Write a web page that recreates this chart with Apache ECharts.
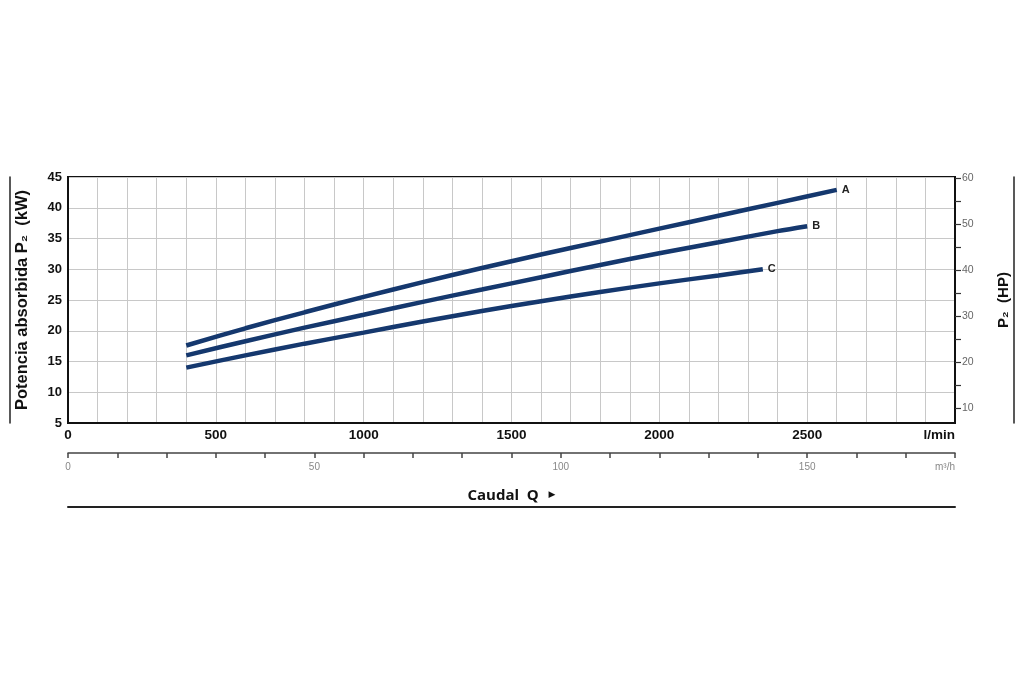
<!DOCTYPE html>
<html>
<head>
<meta charset="utf-8">
<script src="https://cdn.jsdelivr.net/npm/echarts@6/dist/echarts.min.js"></script>
<style>
html,body{margin:0;padding:0;background:#fff;}
#chart{width:1024px;height:683px;}
</style>
</head>
<body>
<div id="chart"></div>
<script>
// ---- data ----
const curveNames = ['A', 'B', 'C'];
const flowA  = [400, 600, 800, 1000, 1200, 1400, 1600, 1800, 2000, 2200, 2400, 2600];
const powerA = [17.6, 20.4, 23.0, 25.5, 27.9, 30.2, 32.4, 34.5, 36.6, 38.7, 40.8, 42.9];
const flowB  = [400, 600, 800, 1000, 1200, 1400, 1600, 1800, 2000, 2200, 2400, 2500];
const powerB = [16.0, 18.3, 20.5, 22.6, 24.7, 26.7, 28.7, 30.7, 32.6, 34.4, 36.2, 37.0];
const flowC  = [400, 600, 800, 1000, 1200, 1400, 1600, 1800, 2000, 2200, 2350];
const powerC = [14.0, 16.0, 17.9, 19.7, 21.5, 23.2, 24.8, 26.3, 27.7, 29.0, 30.0];

const kwTicks = [5, 10, 15, 20, 25, 30, 35, 40, 45];
const hpLabelTicks = [10, 20, 30, 40, 50, 60];
const hpMinorTicks = [10, 15, 20, 25, 30, 35, 40, 45, 50, 55, 60];
const lminLabelTicks = [0, 500, 1000, 1500, 2000, 2500];
const m3hLabelTicks = [0, 50, 100, 150];

const KW_PER_HP = 0.7457;
const LMIN_PER_M3H = 1000 / 60;
const FLOW_MAX = 3000;

// ---- chart ----
const chart = echarts.init(document.getElementById('chart'));
const lineColor = '#15386e';
const numFont = '"Liberation Sans", Arial, sans-serif';
const nameFont = '"Open Sans", "DejaVu Sans", sans-serif';

function zip(xs, ys) { return xs.map((x, i) => [x, ys[i]]); }
const flows = [flowA, flowB, flowC];
const powers = [powerA, powerB, powerC];

const series = curveNames.map((n, i) => ({
  name: n,
  type: 'line',
  xAxisIndex: 0,
  yAxisIndex: 0,
  data: zip(flows[i], powers[i]),
  smooth: 0.3,
  showSymbol: false,
  symbol: 'none',
  lineStyle: { color: lineColor, width: 4.5 },
  endLabel: {
    show: true,
    formatter: '{a}',
    color: '#222',
    fontFamily: numFont,
    fontWeight: 'bold',
    fontSize: 11,
    distance: 5
  },
  emphasis: { disabled: true },
  z: 5
}));

const option = {
  backgroundColor: '#fff',
  animation: false,
  grid: {
    left: 68, right: 69, top: 177, bottom: 260,
    show: true, borderColor: '#111', borderWidth: 2, backgroundColor: 'transparent'
  },
  xAxis: [
    {
      type: 'value', position: 'bottom',
      min: 0, max: FLOW_MAX, interval: 100,
      axisLine: { show: true, onZero: false, lineStyle: { color: '#111', width: 2 } },
      axisTick: { show: false },
      splitLine: { show: true, lineStyle: { color: '#c8c8c8', width: 1 } },
      axisLabel: {
        margin: 5,
        color: '#111', fontFamily: numFont, fontWeight: 'bold', fontSize: 13.5,
        alignMaxLabel: 'right',
        formatter: v => (v === FLOW_MAX ? 'l/min' : (lminLabelTicks.indexOf(v) >= 0 ? String(v) : ''))
      }
    },
    {
      type: 'value', position: 'bottom', offset: 30,
      min: 0, max: FLOW_MAX / LMIN_PER_M3H, interval: 10,
      axisLine: { show: true, onZero: false, lineStyle: { color: '#444', width: 1.5 } },
      axisTick: { show: true, length: 5, lineStyle: { color: '#444', width: 1.5 } },
      splitLine: { show: false },
      axisLabel: {
        margin: 9,
        color: '#888', fontFamily: numFont, fontSize: 10,
        alignMaxLabel: 'right',
        formatter: v => (Math.round(v) === 180 ? 'm³/h' : (m3hLabelTicks.indexOf(Math.round(v)) >= 0 ? String(Math.round(v)) : ''))
      },
      name: 'Caudal  Q  {t|▶}',
      nameLocation: 'middle',
      nameGap: 35,
      nameTextStyle: {
        color: '#111', fontFamily: nameFont, fontWeight: 'bold', fontSize: 15,
        rich: { t: { fontSize: 9, color: '#111', padding: [0, 0, 2, 2] } }
      }
    },
    {
      type: 'value', position: 'bottom', offset: 84,
      min: 0, max: FLOW_MAX,
      axisLine: { show: true, onZero: false, lineStyle: { color: '#222', width: 2 } },
      axisTick: { show: false }, axisLabel: { show: false }, splitLine: { show: false }
    }
  ],
  yAxis: [
    {
      type: 'value', position: 'left',
      min: 5, max: 45, interval: 5,
      axisLine: { show: true, onZero: false, lineStyle: { color: '#111', width: 2 } },
      axisTick: { show: false },
      splitLine: { show: true, lineStyle: { color: '#c8c8c8', width: 1 } },
      axisLabel: {
        margin: 6,
        color: '#111', fontFamily: numFont, fontWeight: 'bold', fontSize: 13,
        formatter: v => (kwTicks.indexOf(v) >= 0 ? String(v) : '')
      },
      name: 'Potencia absorbida P₂  (kW)',
      nameLocation: 'middle',
      nameRotate: 90,
      nameGap: 37,
      nameTextStyle: { color: '#111', fontFamily: numFont, fontWeight: 'bold', fontSize: 16.5 }
    },
    {
      type: 'value', position: 'right',
      min: 5 / KW_PER_HP, max: 45 / KW_PER_HP,
      axisLine: { show: true, onZero: false, lineStyle: { color: '#111', width: 2 } },
      axisTick: { show: true, length: 6, customValues: hpMinorTicks, lineStyle: { color: '#333', width: 1.2 } },
      splitLine: { show: false },
      axisLabel: {
        margin: 7,
        color: '#666', fontFamily: numFont, fontSize: 10.5,
        customValues: hpLabelTicks
      },
      name: 'P₂  (HP)',
      nameLocation: 'middle',
      nameRotate: 90,
      nameGap: 41,
      nameTextStyle: { color: '#111', fontFamily: numFont, fontWeight: 'bold', fontSize: 15 }
    },
    {
      type: 'value', position: 'left', offset: 58,
      min: 5, max: 45,
      axisLine: { show: true, onZero: false, lineStyle: { color: '#222', width: 1.5 } },
      axisTick: { show: false }, axisLabel: { show: false }, splitLine: { show: false }
    },
    {
      type: 'value', position: 'right', offset: 59,
      min: 5, max: 45,
      axisLine: { show: true, onZero: false, lineStyle: { color: '#222', width: 1.5 } },
      axisTick: { show: false }, axisLabel: { show: false }, splitLine: { show: false }
    }
  ],
  series: series
};
chart.setOption(option);
</script>
</body>
</html>
